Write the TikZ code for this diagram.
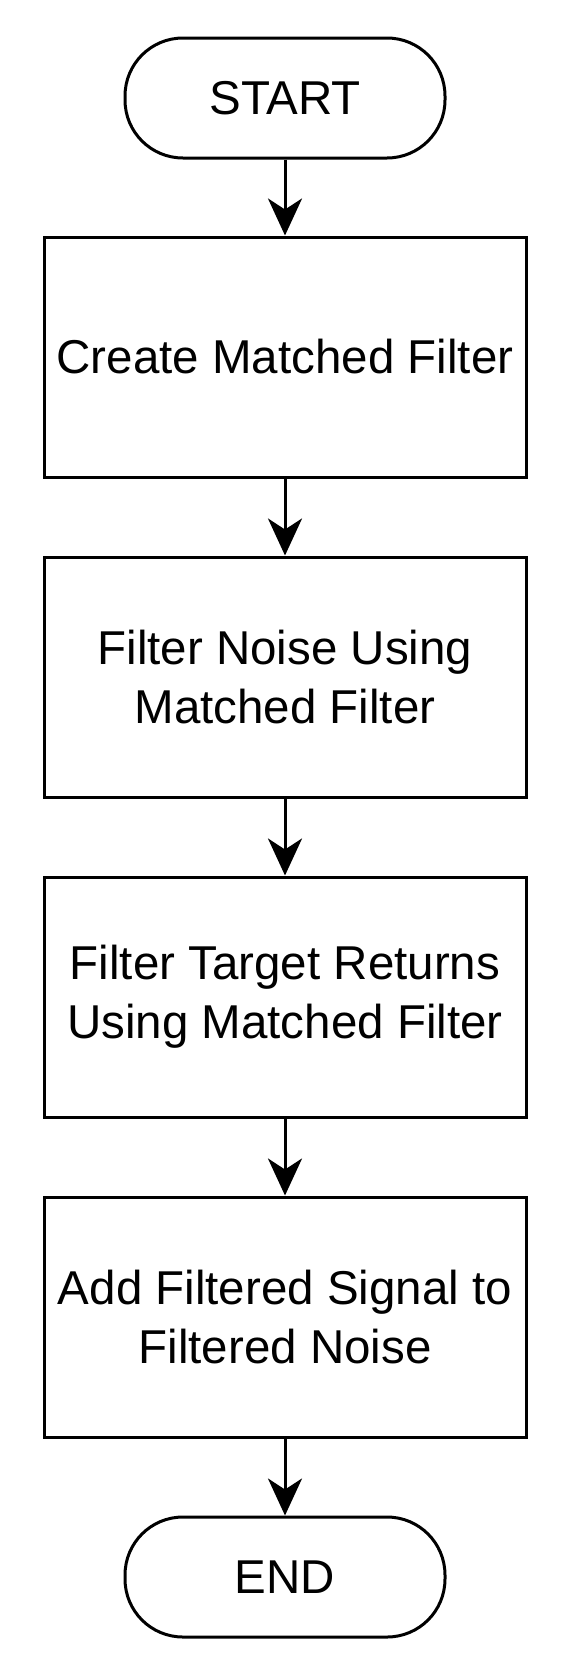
\documentclass[tikz,border=0pt]{standalone}
\usepackage{fontspec}
\setmainfont{Liberation Sans}
\usetikzlibrary{arrows.meta}
\begin{document}
\begin{tikzpicture}[x=1pt,y=-1pt,
  term/.style={draw=black, line width=3pt, rounded corners=58pt, minimum width=320pt, minimum height=120pt, inner sep=0pt, font=\fontsize{47.5}{59}\selectfont},
  proc/.style={draw=black, line width=3pt, minimum width=482pt, minimum height=240pt, inner sep=0pt, align=center, font=\fontsize{47.5}{59}\selectfont},
  flow/.style={line width=3pt, -{Stealth[length=37pt, width=34pt, inset=11pt]}}]
\useasboundingbox (0,0) rectangle (586,1660);
\node[term] (start) at (285,98) {START};
\node[proc] (b1) at (285,357) {Create Matched Filter};
\node[proc] (b2) at (285,677) {Filter Noise Using\\Matched Filter};
\node[proc] (b3) at (285,997) {Filter Target Returns\\Using Matched Filter};
\node[proc] (b4) at (285,1317) {Add Filtered Signal to\\Filtered Noise};
\node[term] (end) at (285,1577) {END};
\draw[flow] (start) -- (b1);
\draw[flow] (b1) -- (b2);
\draw[flow] (b2) -- (b3);
\draw[flow] (b3) -- (b4);
\draw[flow] (b4) -- (end);
\end{tikzpicture}
\end{document}
